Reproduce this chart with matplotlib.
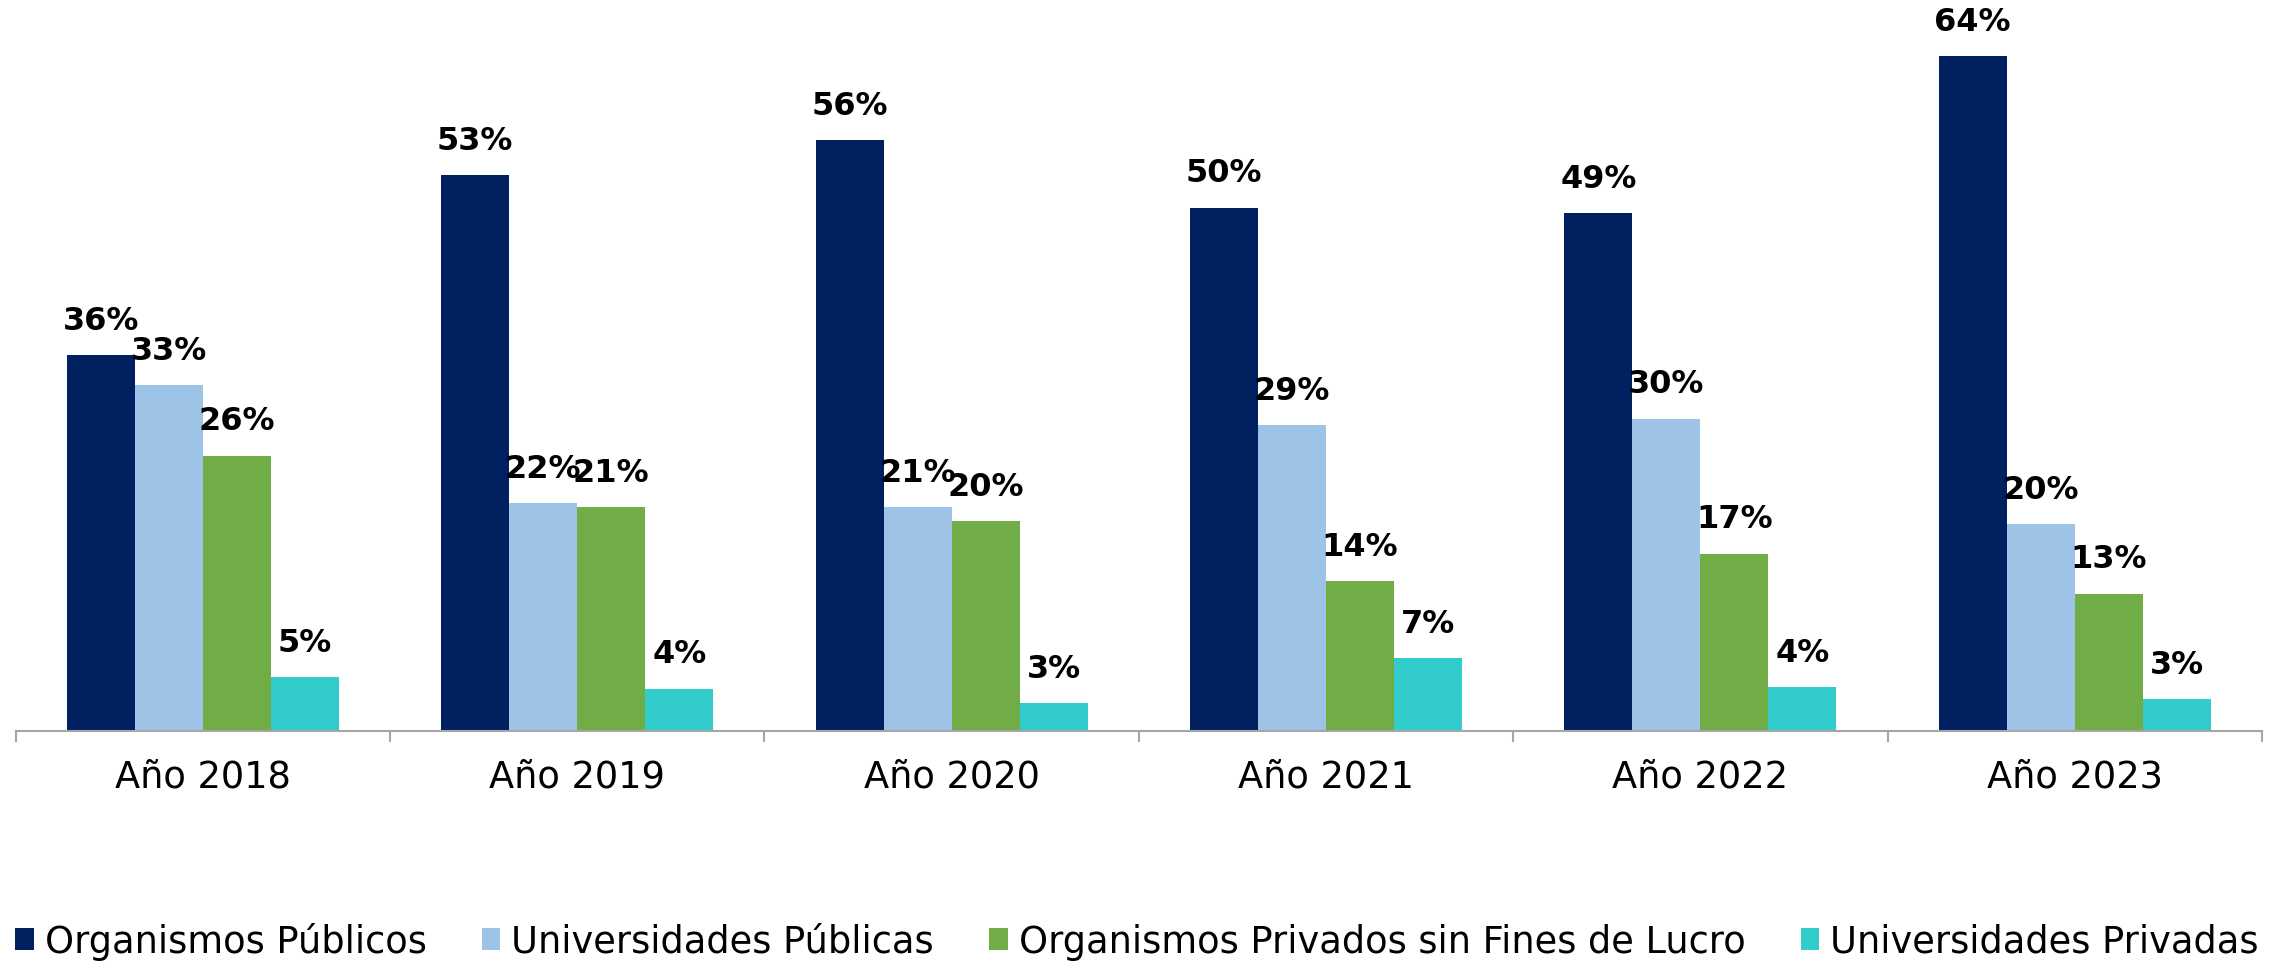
import numpy as np
import matplotlib.pyplot as plt
from matplotlib.ticker import FixedLocator

# datos (porcentaje)
years = ["Año 2018", "Año 2019", "Año 2020", "Año 2021", "Año 2022", "Año 2023"]
series_names = ["Organismos Públicos", "Universidades Públicas",
                "Organismos Privados sin Fines de Lucro", "Universidades Privadas"]
org_publicos = [35.6, 52.7, 56.0, 49.6, 49.1, 64.0]
univ_publicas = [32.8, 21.6, 21.2, 29.0, 29.6, 19.6]
org_privados = [26.1, 21.2, 19.9, 14.2, 16.8, 13.0]
univ_privadas = [5.1, 4.0, 2.6, 6.9, 4.1, 3.0]

colors = ["#002060", "#9DC3E6", "#70AD47", "#33CCCC"]

plt.rcParams['font.family'] = ['DejaVu Sans']

fig = plt.figure(figsize=(22.74, 9.62), dpi=100)
ax = fig.add_axes([0.0069, 0.2394, 0.9878, 0.745])

x = np.arange(len(years))
w = 0.1817
all_series = [org_publicos, univ_publicas, org_privados, univ_privadas]
for i, vals in enumerate(all_series):
    pos = x + (i - 1.5) * w
    bars = ax.bar(pos, vals, width=w, color=colors[i], label=series_names[i])
    for b, v in zip(bars, vals):
        ax.annotate("{:.0f}%".format(v), (b.get_x() + b.get_width() / 2, v),
                    xytext=(0, 14), textcoords="offset points",
                    ha="center", va="bottom", fontsize=23, fontweight="bold",
                    color="black")

ax.set_xlim(-0.5, len(years) - 0.5)
ax.set_ylim(0, 68)
ax.set_yticks([])
ax.set_xticks(x)
ax.set_xticklabels(years, fontsize=26.5)
ax.tick_params(axis="x", which="major", length=0, pad=19)
ax.xaxis.set_minor_locator(FixedLocator(np.arange(-0.5, len(years), 1.0)))
ax.tick_params(axis="x", which="minor", length=8, width=1.5, color="#A6A6A6")
for s in ["top", "left", "right"]:
    ax.spines[s].set_visible(False)
ax.spines["bottom"].set_color("#A6A6A6")
ax.spines["bottom"].set_linewidth(1.5)

fig.legend(loc="center", bbox_to_anchor=(0.5, 0.021), ncol=4, frameon=False,
           fontsize=26.5, handlelength=0.5, handleheight=0.55,
           handletextpad=0.3, columnspacing=1.5)

fig.savefig("out.png", dpi=100)
